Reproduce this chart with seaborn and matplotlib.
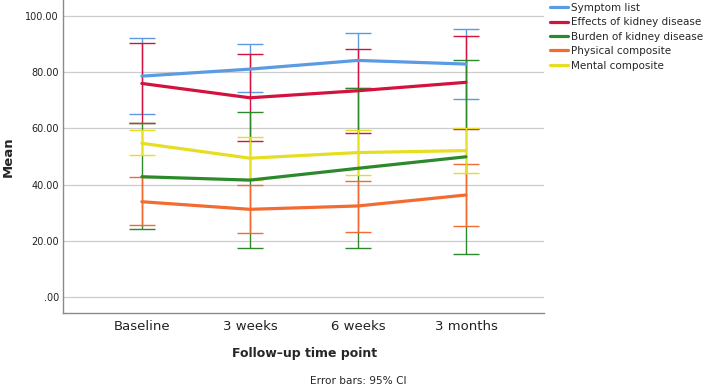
import matplotlib
matplotlib.use("Agg")
import matplotlib.pyplot as plt
import seaborn as sns
import pandas as pd

# categorias e séries
tempos = ["Baseline", "3 weeks", "6 weeks", "3 months"]
series = ["Symptom list", "Effects of kidney disease", "Burden of kidney disease",
          "Physical composite", "Mental composite"]
cores = ["#5b9be3", "#d4123f", "#2c8a2c", "#f26b30", "#e6de23"]

# médias
media_sintomas = [78.6, 81.1, 84.2, 82.9]
media_efeitos = [76.0, 70.9, 73.4, 76.4]
media_carga = [42.8, 41.6, 45.8, 49.9]
media_fisico = [33.9, 31.2, 32.4, 36.3]
media_mental = [54.7, 49.4, 51.4, 52.1]

# limites do IC 95%
ic_inf_sintomas = [65.1, 72.8, 74.4, 70.6]
ic_sup_sintomas = [92.2, 89.9, 94.0, 95.4]
ic_inf_efeitos = [61.9, 55.5, 58.5, 59.8]
ic_sup_efeitos = [90.5, 86.4, 88.4, 93.0]
ic_inf_carga = [24.2, 17.3, 17.6, 15.4]
ic_sup_carga = [62.0, 65.7, 74.3, 84.3]
ic_inf_fisico = [25.7, 22.7, 23.0, 25.4]
ic_sup_fisico = [42.8, 39.9, 41.4, 47.2]
ic_inf_mental = [50.5, 41.8, 43.4, 44.2]
ic_sup_mental = [59.4, 57.0, 59.4, 60.0]

medias = [media_sintomas, media_efeitos, media_carga, media_fisico, media_mental]
ic_inf = [ic_inf_sintomas, ic_inf_efeitos, ic_inf_carga, ic_inf_fisico, ic_inf_mental]
ic_sup = [ic_sup_sintomas, ic_sup_efeitos, ic_sup_carga, ic_sup_fisico, ic_sup_mental]

linhas = []
for nome, m, lo, hi in zip(series, medias, ic_inf, ic_sup):
    for t, v, a, b in zip(tempos, m, lo, hi):
        linhas.append({"Tempo": t, "Serie": nome, "Media": v, "Inf": a, "Sup": b})
df = pd.DataFrame(linhas)

sns.set_style("white")
plt.rcParams["font.family"] = ["DejaVu Sans"]

fig = plt.figure(figsize=(7.09, 3.85), dpi=100)
ax = fig.add_axes([0.0889, 0.187, 0.678, 0.813])

# barras de erro
for nome, cor in zip(series, cores):
    d = df[df["Serie"] == nome]
    ax.errorbar(d["Tempo"], d["Media"],
                yerr=[d["Media"] - d["Inf"], d["Sup"] - d["Media"]],
                fmt="none", ecolor=cor, elinewidth=1.0, capsize=9.5, capthick=1.0)

sns.lineplot(data=df, x="Tempo", y="Media", hue="Serie", palette=cores,
             linewidth=2.3, ax=ax, sort=False)

ax.set_xlim(-0.73, 3.72)
ax.set_ylim(-5.7, 105.7)
ax.set_yticks([0, 20, 40, 60, 80, 100])
ax.set_yticklabels([".00", "20.00", "40.00", "60.00", "80.00", "100.00"])
ax.yaxis.grid(True, color="#cccccc", linewidth=0.9)
ax.set_axisbelow(True)
for s in ["top", "right"]:
    ax.spines[s].set_visible(False)
for s in ["left", "bottom"]:
    ax.spines[s].set_color("#8a8a8a")
    ax.spines[s].set_linewidth(1.0)
ax.tick_params(axis="both", length=0)
ax.tick_params(axis="y", labelsize=7, pad=3, labelcolor="#222222")
ax.tick_params(axis="x", labelsize=9.5, pad=5, labelcolor="#222222")

ax.set_xlabel("Follow\u2013up time point", fontsize=9, fontweight="bold")
ax.xaxis.set_label_coords(0.503, -0.109)
ax.set_ylabel("Mean", fontsize=9.5, fontweight="bold")
ax.yaxis.set_label_coords(-0.100, 0.5)

ax.legend(loc="upper left", bbox_to_anchor=(550 / 709, 0.993),
          bbox_transform=fig.transFigure, frameon=False,
          fontsize=7.5, handlelength=1.75, handletextpad=0.3, labelspacing=0.43,
          borderaxespad=0.0, borderpad=0.0)

fig.text(0.505, 1 - 381 / 385, "Error bars: 95% CI", ha="center", va="center", fontsize=7.6)

fig.savefig("out.png", dpi=100)
